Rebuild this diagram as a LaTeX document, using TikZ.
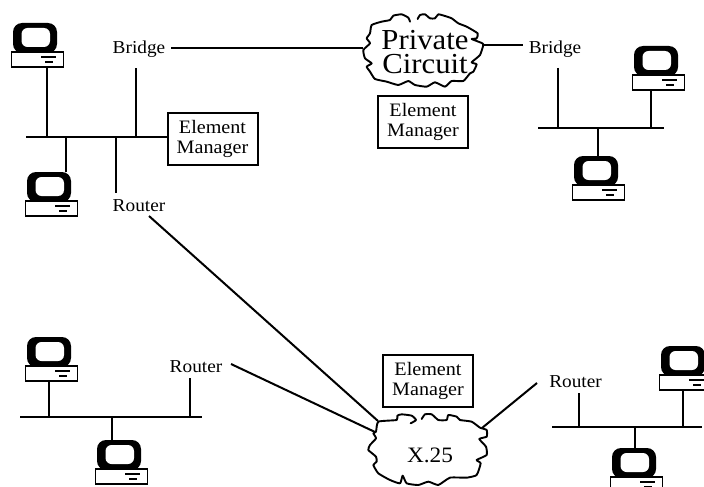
\documentclass[tikz,border=0pt]{standalone}
\usepackage{fontspec}
\setmainfont[FakeStretch=1.06]{Liberation Serif}
\tikzset{
  x=1pt,y=-1pt,
  wire/.style={line width=2pt,line cap=butt},
  labeltext/.style={inner sep=0pt,align=center,font=\fontsize{18.2}{20}\selectfont},
  mgrbox/.style={draw,line width=2pt,inner sep=0pt,align=center,font=\fontsize{19}{20}\selectfont,minimum width=90pt,minimum height=52pt},
  cloudtext/.style={inner sep=0pt,align=center},
  cloudline/.style={line width=1.9pt,line join=round,line cap=round},
  computer/.pic={
    \fill[rounded corners=9pt] (2,0) rectangle (46,30);
    \fill[white,rounded corners=6pt] (10.5,5) rectangle (39,24);
    \draw[line width=1.9pt,fill=white] (0.5,29) rectangle (52.5,44);
    \draw[line width=1.7pt] (30,34) -- (45,34) (34,39) -- (42,39);
  }
}
\begin{document}
\begin{tikzpicture}
\useasboundingbox (0,0) rectangle (704,487);
% computers
\pic at (11,23) {computer};
\pic at (25,172) {computer};
\pic at (632,46) {computer};
\pic at (572,156) {computer};
\pic at (25,337) {computer};
\pic at (95,440) {computer};
\pic at (659,346) {computer};
\pic at (610,448) {computer};
% nodes
\node[labeltext] (bridgeL) at (139,49.5) {Bridge};
\node[labeltext] (bridgeR) at (555,49.5) {Bridge};
\node[labeltext] (routerA) at (139,205.5) {Router};
\node[labeltext] (routerB) at (196,367) {Router};
\node[labeltext] (routerC) at (575.5,382) {Router};
\node[mgrbox] (em1) at (212.5,139) {Element\\Manager};
\node[mgrbox] (em2) at (423,121.5) {Element\\Manager};
\node[mgrbox] (em3) at (428,380.5) {Element\\Manager};
\node[cloudtext,font=\fontsize{29}{24}\selectfont] (pc) at (425,52) {Private\\Circuit};
\node[cloudtext,font=\fontsize{22}{24}\selectfont] (x25) at (430,455) {X.25};
% clouds
\begin{scope}[shift={(355,5)},x=0.3333pt,y=-0.3333pt]
\draw[cloudline] plot[smooth,tension=0.3] coordinates {(188,42)(195,30)(210,28)(225,40)(240,40)(250,28)(270,33)(290,40)(310,55)(335,65)(368,85)(365,100)(350,102)(370,110)(385,118)(375,150)(350,172)(365,178)(355,200)(345,205)(325,228)(290,228)(270,245)(240,232)(215,245)(180,240)(160,228)(130,240)(95,230)(60,222)(45,200)(35,185)(50,175)(30,160)(25,135)(45,115)(35,100)(45,85)(50,60)(80,50)(105,45)(115,32)(140,28)(160,38)(165,50)};
\end{scope}
\begin{scope}[shift={(360,405)},x=0.3333pt,y=-0.3333pt]
\draw[cloudline] plot[smooth,tension=0.3] coordinates {(185,42)(195,28)(215,28)(235,45)(260,45)(265,30)(290,35)(300,45)(335,50)(360,68)(380,75)(380,95)(358,102)(378,125)(380,150)(350,165)(362,175)(350,210)(320,218)(270,218)(235,240)(205,230)(175,240)(140,235)(128,212)(120,235)(90,225)(55,205)(40,180)(50,170)(48,155)(25,135)(30,120)(48,100)(40,85)(48,80)(55,50)(110,45)(112,32)(125,28)(155,32)(168,45)(152,55)};
\end{scope}
% connection points
\coordinate (a1) at (26,137);
\coordinate (t1) at (47,67);  \coordinate (j1) at (47,137);
\coordinate (t2) at (66,172); \coordinate (j2) at (66,137);
\coordinate (j3) at (115.5,137); \coordinate (r1) at (115.5,193);
\coordinate (j4) at (136,137);   \coordinate (b1) at (136,68);
\draw[wire] (a1) -- (a1 -| em1.west);
\draw[wire] (t1) -- (j1);
\draw[wire] (t2) -- (j2);
\draw[wire] (j3) -- (r1);
\draw[wire] (j4) -- (b1);
\coordinate (pcw) at (363,48); \coordinate (pce) at (482,45);
\coordinate (bL) at (171,48); \coordinate (bR) at (523,45);
\draw[wire] (bL) -- (pcw);
\draw[wire] (pce) -- (bR);
% top right LAN
\coordinate (c1) at (538,128); \coordinate (c2) at (664,128);
\coordinate (c3) at (558,68);  \coordinate (c4) at (558,128);
\coordinate (c5) at (651,90);  \coordinate (c6) at (651,128);
\coordinate (c7) at (598,157); \coordinate (c8) at (598,128);
\draw[wire] (c1) -- (c2);
\draw[wire] (c3) -- (c4);
\draw[wire] (c5) -- (c6);
\draw[wire] (c7) -- (c8);
% bottom left LAN
\coordinate (d1) at (20,417); \coordinate (d2) at (202,417);
\coordinate (d3) at (49,381); \coordinate (d4) at (49,417);
\coordinate (d5) at (190,378); \coordinate (d6) at (190,417);
\coordinate (d7) at (112,440); \coordinate (d8) at (112,417);
\draw[wire] (d1) -- (d2);
\draw[wire] (d3) -- (d4);
\draw[wire] (d5) -- (d6);
\draw[wire] (d7) -- (d8);
% bottom right LAN
\coordinate (e1) at (552,427); \coordinate (e2) at (702,427);
\coordinate (e3) at (579,393); \coordinate (e4) at (579,427);
\coordinate (e5) at (683,390); \coordinate (e6) at (683,427);
\coordinate (e7) at (635,448); \coordinate (e8) at (635,427);
\draw[wire] (e1) -- (e2);
\draw[wire] (e3) -- (e4);
\draw[wire] (e5) -- (e6);
\draw[wire] (e7) -- (e8);
% WAN links
\coordinate (f1) at (149,216); \coordinate (f2) at (378,421);
\coordinate (f3) at (231,364); \coordinate (f4) at (375,432);
\coordinate (f5) at (537,383); \coordinate (f6) at (482,428);
\draw[wire] (f1) -- (f2);
\draw[wire] (f3) -- (f4);
\draw[wire] (f5) -- (f6);
\end{tikzpicture}
\end{document}
